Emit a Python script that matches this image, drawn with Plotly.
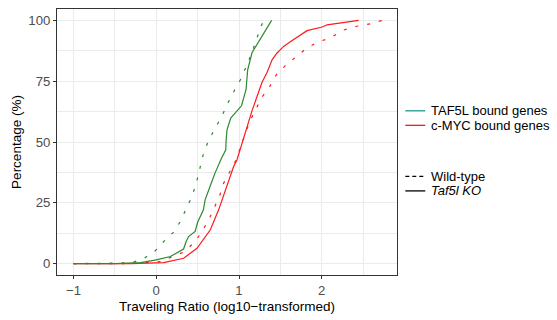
import plotly.graph_objects as go

# TAF5L bound genes, Taf5l KO (solid green)
taf_ko_x = [-1.0, -0.5, -0.19, 0.0, 0.17, 0.33, 0.36, 0.39, 0.47, 0.50, 0.57, 0.59, 0.65,
            0.71, 0.78, 0.84, 0.845, 0.855, 0.90, 1.03, 1.085, 1.105, 1.158, 1.394]
taf_ko_y = [0, 0, 0.4, 1.5, 2.9, 6.0, 9.0, 11.1, 13.2, 17.0, 22.1, 26.2, 31.7,
            37.2, 42.7, 46.8, 50.9, 55.0, 59.8, 64.9, 71.5, 79.7, 86.8, 100]

# TAF5L bound genes, Wild-type (dashed green)
taf_wt_x = [-1.0, -0.5, -0.3, -0.145, -0.012, 0.097, 0.218, 0.29, 0.36, 0.432, 0.484, 0.521,
            0.565, 0.621, 0.70, 0.787, 0.855, 0.935, 1.017, 1.089, 1.15, 1.21, 1.267, 1.30]
taf_wt_y = [0, 0, 0.3, 2.2, 5.3, 9.3, 13.2, 17.3, 22.4, 27.6, 33.1, 38.8,
            44.5, 49.7, 55.0, 60.1, 65.3, 70.6, 75.6, 81.1, 86.2, 92.1, 97.7, 100]

# c-MYC bound genes, Taf5l KO (solid red)
myc_ko_x = [-1.0, -0.3, 0.089, 0.331, 0.492, 0.654, 0.754, 0.855, 0.935, 0.976, 1.037, 1.097,
            1.158, 1.218, 1.279, 1.34, 1.40, 1.46, 1.54, 1.62, 1.72, 1.823, 2.005, 2.065, 2.447]
myc_ko_y = [0, 0, 0.4, 2.2, 6.3, 13.9, 22.1, 31.7, 39.9, 42.7, 49.5, 56.4,
            62.9, 68.7, 74.6, 78.7, 83.8, 86.6, 89.3, 91.2, 93.6, 95.8, 97.3, 98.2, 100]

# c-MYC bound genes, Wild-type (dashed red)
myc_wt_x = [-1.0, -0.3, 0.049, 0.19, 0.331, 0.464, 0.553, 0.633, 0.70, 0.766, 0.815, 0.895,
            0.964, 1.04, 1.129, 1.21, 1.279, 1.371, 1.452, 1.56, 1.803, 1.944, 2.105, 2.25,
            2.41, 2.59, 2.73]
myc_wt_y = [0, 0, 0.8, 2.6, 4.7, 8.8, 13.2, 17.9, 22.6, 27.9, 33.1, 37.9,
            42.5, 50.0, 58.4, 63.9, 68.5, 72.8, 77.7, 81.4, 88.2, 91.0, 92.8, 95.9,
            97.5, 98.6, 100]

x_ticks = [-1, 0, 1, 2]
y_ticks = [0, 25, 50, 75, 100]
x_title = "Traveling Ratio (log10\u2212transformed)"
y_title = "Percentage (%)"
legend_colour_labels = ["TAF5L bound genes", "c-MYC bound genes"]
legend_type_labels = ["Wild-type", "<i>Taf5l KO</i>"]

GREEN = "#2b8a2b"
RED = "#ff1a1a"
TEAL = "#1f9a8c"
DASH = "3px,9px"
FONT = "Liberation Sans, Arial, Helvetica, sans-serif"

fig = go.Figure()
for xs, ys, col, dash in [
    (myc_wt_x, myc_wt_y, RED, DASH),
    (myc_ko_x, myc_ko_y, RED, "solid"),
    (taf_wt_x, taf_wt_y, GREEN, DASH),
    (taf_ko_x, taf_ko_y, GREEN, "solid"),
]:
    fig.add_trace(go.Scatter(x=xs, y=ys, mode="lines",
                             line=dict(color=col, width=1.2, dash=dash),
                             showlegend=False, hoverinfo="skip"))

# panel geometry in pixels
W, H = 557, 320
L, R, T, B = 56.7, 396.7, 9.3, 275.0
pw, ph = R - L, B - T

def px_x(px):
    return (px - L) / pw

def px_y(py):
    return (B - py) / ph

# manual legend
shapes = []
annotations = []
rows = [
    (legend_colour_labels[0], 111.0, TEAL, "solid"),
    (legend_colour_labels[1], 125.5, RED, "solid"),
    (legend_type_labels[0], 176.5, "black", "4px,3px"),
    (legend_type_labels[1], 191.0, "black", "solid"),
]
for label, ypix, col, dash in rows:
    shapes.append(dict(type="line", xref="paper", yref="paper",
                       x0=px_x(405), x1=px_x(425), y0=px_y(ypix), y1=px_y(ypix),
                       line=dict(color=col, width=1.3, dash=dash)))
    annotations.append(dict(text=label, xref="paper", yref="paper",
                            x=px_x(429), y=px_y(ypix), xanchor="left", yanchor="middle",
                            showarrow=False, font=dict(size=13, color="black", family=FONT)))

fig.update_layout(
    width=W, height=H,
    margin=dict(l=L, r=W - R, t=T, b=H - B, autoexpand=False),
    plot_bgcolor="white", paper_bgcolor="white",
    font=dict(family=FONT, size=13.2, color="#4d4d4d"),
    shapes=shapes, annotations=annotations,
    showlegend=False,
)
grid = "#ebebeb"
fig.update_xaxes(
    range=[-1.2, 2.91], tickvals=x_ticks,
    ticktext=[("\u2212" + str(-v)) if v < 0 else str(v) for v in x_ticks],
    showgrid=True, gridcolor=grid, gridwidth=1, zeroline=False,
    showline=True, linecolor="#333333", linewidth=1, mirror=True,
    ticks="outside", ticklen=3, tickcolor="#333333", automargin=False,
    minor=dict(tick0=-0.5, dtick=1, showgrid=True, gridcolor=grid, gridwidth=0.6, ticks=""),
    title=dict(text=x_title, font=dict(size=13.5, color="black"), standoff=4),
)
fig.update_yaxes(
    range=[-4.7, 104.7], tickvals=y_ticks,
    showgrid=True, gridcolor=grid, gridwidth=1, zeroline=False,
    showline=True, linecolor="#333333", linewidth=1, mirror=True,
    ticks="outside", ticklen=3, tickcolor="#333333", automargin=False,
    minor=dict(tick0=12.5, dtick=25, showgrid=True, gridcolor=grid, gridwidth=0.6, ticks=""),
    title=dict(text=y_title, font=dict(size=13.5, color="black"), standoff=3),
)

fig.write_html("out.html")
